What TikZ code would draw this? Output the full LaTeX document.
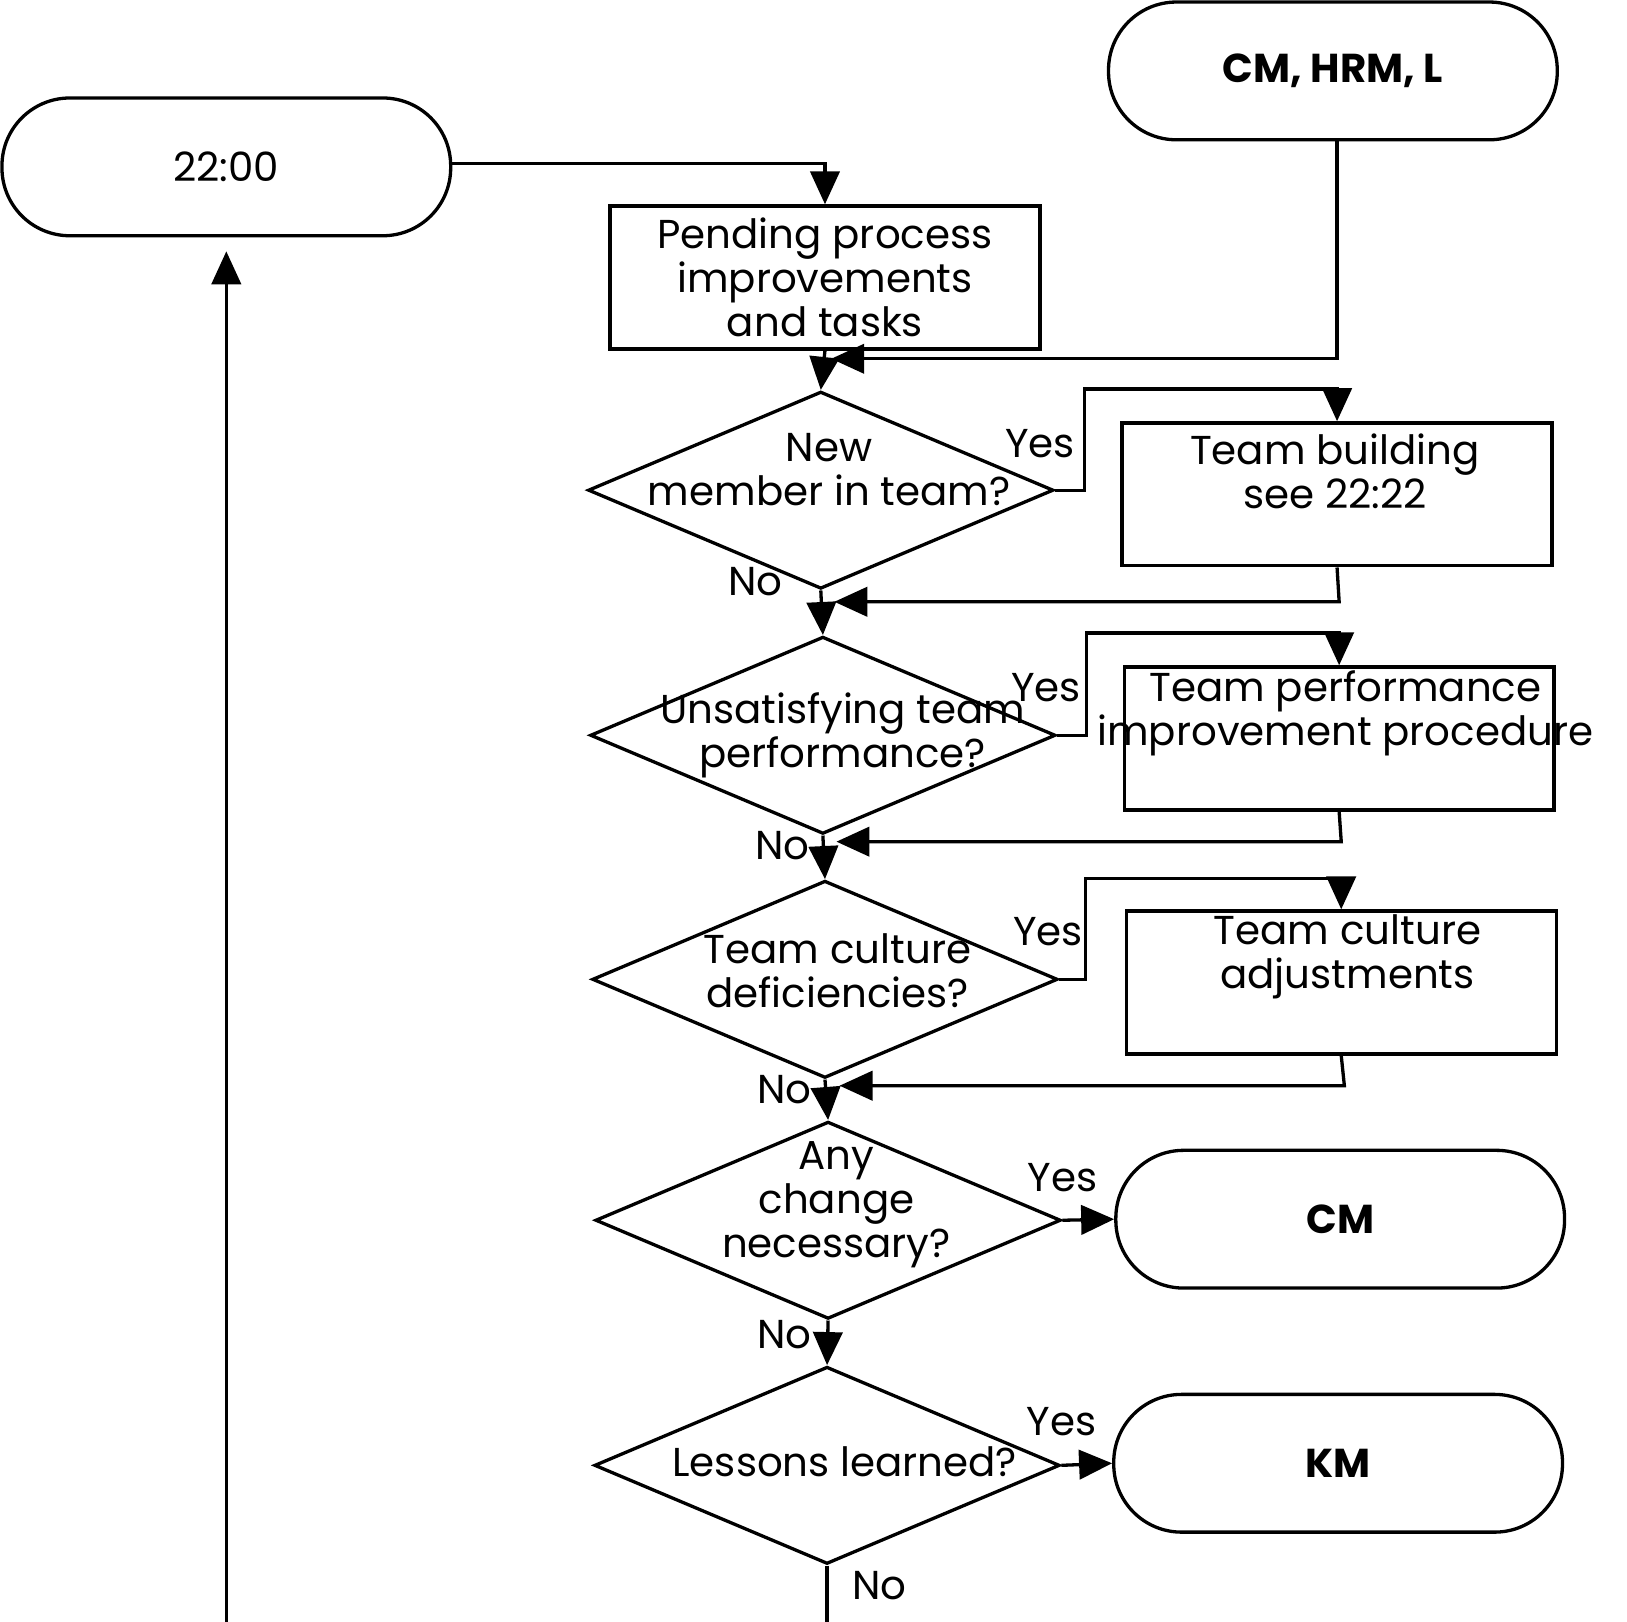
\documentclass[tikz,border=0pt]{standalone}
\usepackage{fontspec}
\setmainfont{Poppins}
\usetikzlibrary{arrows.meta,shapes.geometric}
\tikzset{
    flow/.style={line width=0.9pt},
    arr/.style={flow,-{Triangle[length=9pt,width=8pt]}},
    term/.style={draw, line width=0.9pt, rounded corners=0.65cm, minimum width=4.3cm, minimum height=1.32cm},
    task/.style={draw, line width=0.9pt, minimum width=4.12cm, minimum height=1.37cm, inner sep=0pt},
    dec/.style={draw, line width=0.9pt, diamond, aspect=2.36, minimum width=4.46cm, minimum height=1.89cm, inner sep=0pt},
    lbl/.style={inner sep=1pt}
}
\begin{document}
\begin{tikzpicture}[x=0.01cm, y=-0.01cm, font=\fontsize{11}{12}\selectfont, align=center]
    \useasboundingbox (0,0) rectangle (1560,1555);
    % terminals
    \node[term] (start) at (217,160) {22:00};
    \node[term] (cmhrm) at (1278,68) {\textbf{CM, HRM, L}};
    \node[term] (cm) at (1285,1169) {\textbf{CM}};
    \node[term] (km) at (1283,1403) {\textbf{KM}};
    % tasks
    \node[task] (pend) at (791,266) {Pending process\\improvements\\and tasks};
    \node[task] (tb) at (1282,474) {};
    \node[task] (tp) at (1284,708) {};
    \node[task] (tc) at (1286,942) {};
    \node at (1280,452) {Team building\\see 22:22};
    \node at (1290,684) {Team performance\\improvement procedure};
    \node at (1292,917) {Team culture\\adjustments};
    % decisions
    \node[dec] (d1) at (787,470) {};
    \node[dec] (d2) at (789,705) {};
    \node[dec] (d3) at (791,939) {};
    \node[dec] (d4) at (794,1170) {};
    \node[dec] (d5) at (793,1405) {};
    \node at (795,450) {New\\member in team?};
    \node at (808,705) {Unsatisfying team\\performance?};
    \node at (803,931) {Team culture\\deficiencies?};
    \node at (802,1155) {Any\\change\\necessary?};
    \node at (810,1402) {Lessons learned?};
    % helper corners
    \coordinate (c1) at (1040,373);
    \coordinate (c2) at (1042,607);
    \coordinate (c3) at (1041,842);
    \coordinate (r1) at (1284,577);
    \coordinate (r2) at (1286,807);
    \coordinate (r3) at (1289,1041);
    \coordinate (back) at (217,1560);
    % connectors
    \draw[arr] (start.east |- 0,157) -| (pend.north);
    \draw[arr] (cmhrm.south -| 1282,0) |- (797,344);
    \draw[arr] (pend.south) -- (d1.north);
    \draw[arr] (d1.east) -| (c1) -| (tb.north);
    \draw[arr] (tb.south) -- (r1) -- (800,577);
    \draw[arr] (d1.south) -- (d2.north);
    \draw[arr] (d2.east) -| (c2) -| (tp.north);
    \draw[arr] (tp.south) -- (r2) -- (802,807);
    \draw[arr] (d2.south) -- (d3.north);
    \draw[arr] (d3.east) -| (c3) -| (tc.north);
    \draw[arr] (tc.south) -- (r3) -- (805,1041);
    \draw[arr] (d3.south) -- (d4.north);
    \draw[arr] (d4.east) -- (cm.west);
    \draw[arr] (d4.south) -- (d5.north);
    \draw[arr] (d5.east) -- (km.west);
    \draw[arr] (d5.south) -- (d5.south |- back) -- (back) -- (217,241);
    % labels
    \node[lbl] at (997,425) {Yes};
    \node[lbl] at (1003,659) {Yes};
    \node[lbl] at (1005,893) {Yes};
    \node[lbl] at (1019,1129) {Yes};
    \node[lbl] at (1018,1363) {Yes};
    \node[lbl] at (724,558) {No};
    \node[lbl] at (750,811) {No};
    \node[lbl] at (752,1045) {No};
    \node[lbl] at (752,1280) {No};
    \node[lbl] at (843,1520) {No};
\end{tikzpicture}
\end{document}
